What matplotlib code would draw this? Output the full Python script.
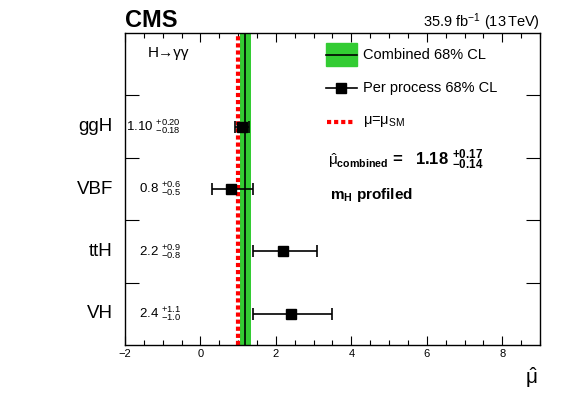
import matplotlib
matplotlib.use('Agg')
import matplotlib.pyplot as plt
from matplotlib.ticker import MultipleLocator, FixedLocator
from matplotlib.lines import Line2D
from matplotlib.patches import Rectangle

plt.rcParams['font.family'] = ['Liberation Sans', 'DejaVu Sans']
plt.rcParams['mathtext.fontset'] = 'custom'
plt.rcParams['mathtext.rm'] = 'Liberation Sans'
plt.rcParams['mathtext.it'] = 'Liberation Sans:italic'
plt.rcParams['mathtext.bf'] = 'Liberation Sans:bold'

# per-process signal strengths
processes = ['ggH', 'VBF', 'ttH', 'VH']
mu_best = [1.10, 0.8, 2.2, 2.4]
err_up = [0.20, 0.6, 0.9, 1.1]
err_down = [0.18, 0.5, 0.8, 1.0]
labels_best = ['1.10', '0.8', '2.2', '2.4']
labels_up = ['0.20', '0.6', '0.9', '1.1']
labels_down = ['0.18', '0.5', '0.8', '1.0']

# combined result
mu_comb = 1.18
comb_up = 0.17
comb_down = 0.14
mu_sm = 1.0

green = '#33cc33'

fig = plt.figure(figsize=(5.81, 3.94), dpi=100)
ax = fig.add_axes([0.2151, 0.1244, 0.7143, 0.7918])

ypos = [3.5, 2.5, 1.5, 0.5]

ax.axvspan(mu_comb - comb_down, mu_comb + comb_up, color=green, lw=0, zorder=1)
ax.axvline(mu_sm, color='red', lw=3, ls=(0, (1.0, 0.7)), zorder=2)
ax.axvline(mu_comb, color='black', lw=1.2, zorder=3)

ax.errorbar(mu_best, ypos, xerr=[err_down, err_up], fmt='s', color='black',
            ms=7, capsize=4.5, elinewidth=1.2, capthick=1.2, zorder=4)

ax.set_xlim(-2, 9)
ax.set_ylim(0, 5)
ax.xaxis.set_major_locator(MultipleLocator(2))
ax.xaxis.set_minor_locator(MultipleLocator(0.5))
ax.yaxis.set_major_locator(FixedLocator([1, 2, 3, 4]))
ax.set_yticklabels([])
ax.tick_params(axis='x', which='major', direction='in', top=True, length=6.5,
               width=0.8, labelsize=8, pad=3)
ax.tick_params(axis='x', which='minor', direction='in', top=True, length=3.5, width=0.8)
ax.tick_params(axis='y', which='major', direction='in', right=True, length=10, width=0.8)
for s in ax.spines.values():
    s.set_linewidth(1.0)

# category labels and per-process values
for name, y, b, u, d in zip(processes, ypos, labels_best, labels_up, labels_down):
    ax.text(-0.029, y, name, transform=ax.get_yaxis_transform(), ha='right',
            va='center', fontsize=13.5)
    ax.text(0.135, y, r'$\mathrm{%s}\ ^{+%s}_{-%s}$' % (b, u, d),
            transform=ax.get_yaxis_transform(), ha='right', va='center', fontsize=9.5)

ax.text(0.055, 0.936, 'H→γγ', transform=ax.transAxes, ha='left', va='center', fontsize=11)

# legend drawn by hand
t = ax.transAxes
ax.add_patch(Rectangle((0.484, 0.894), 0.075, 0.074, transform=t, color=green,
                       clip_on=False, zorder=5))
ax.add_line(Line2D([0.484, 0.559], [0.931, 0.931], transform=t, color='black', lw=1.2, zorder=6))
ax.text(0.573, 0.931, 'Combined 68% CL', transform=t, va='center', fontsize=10.5)

ax.add_line(Line2D([0.484, 0.559], [0.824, 0.824], transform=t, color='black', lw=1.2, zorder=6))
ax.add_line(Line2D([0.5215], [0.824], transform=t, marker='s', ms=7, color='black', zorder=6))
ax.text(0.573, 0.824, 'Per process 68% CL', transform=t, va='center', fontsize=10.5)

ax.add_line(Line2D([0.486, 0.55], [0.715, 0.715], transform=t, color='red', lw=3,
                   ls=(0, (1.0, 0.7)), zorder=6))
ax.text(0.573, 0.715, r'$\mathrm{\mu}$=$\mathrm{\mu}_{\mathrm{SM}}$', transform=t,
        va='center', fontsize=10.5)

ax.text(0.489, 0.59, r'$\hat{\mathrm{\mu}}_{\mathbf{combined}}$', transform=t, va='center',
        fontsize=11)
ax.text(0.643, 0.595, '=', transform=t, va='center', fontsize=12, fontweight='bold')
ax.text(0.699, 0.595, r'$\mathbf{1.18}\ ^{\mathbf{+0.17}}_{\mathbf{-0.14}}$',
        transform=t, va='center', fontsize=12)
ax.text(0.494, 0.481, r'$\mathbf{m_H}$ profiled', transform=t, va='center',
        fontsize=11, fontweight='bold')

# axis label
ax.text(0.98, -0.105, r'$\hat{\mathrm{\mu}}$', transform=t, ha='center', va='center',
        fontsize=15)

# header
fig.text(0.2151, 0.931, 'CMS', ha='left', va='baseline', fontsize=17, fontweight='bold')
fig.text(0.9294, 0.931, r'35.9 fb$^{-1}$ (13$\,$TeV)', ha='right', va='baseline',
         fontsize=10.5)

fig.savefig('out.png', dpi=100)
